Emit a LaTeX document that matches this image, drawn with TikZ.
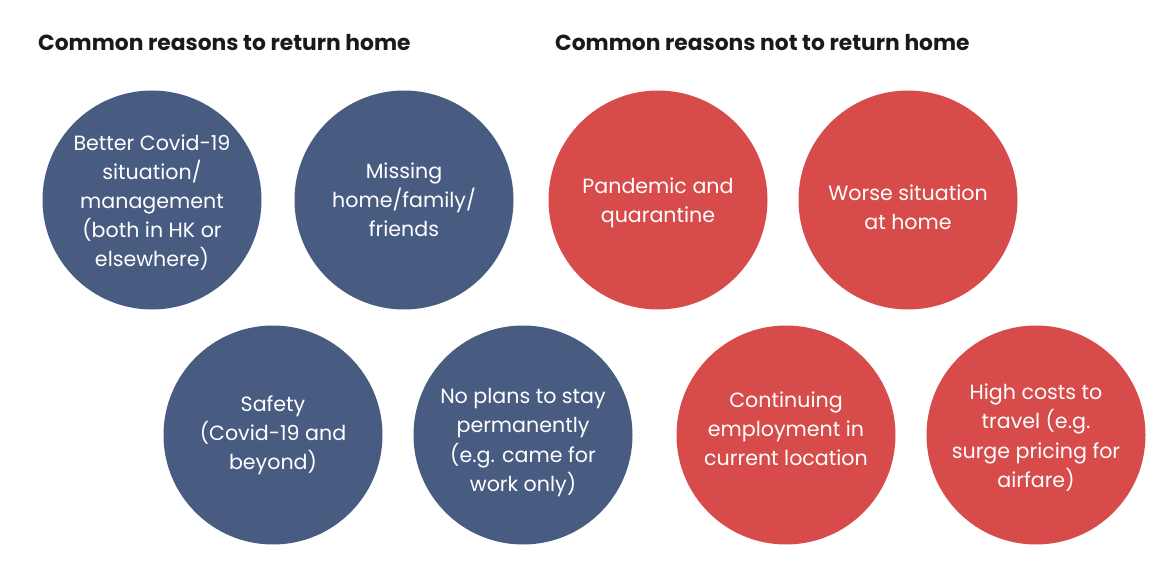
\documentclass[tikz,border=0pt]{standalone}
\usepackage{fontspec}
\setmainfont{Poppins}
\definecolor{cblue}{HTML}{485C82}
\definecolor{cred}{HTML}{D84B4B}
\definecolor{ctitle}{HTML}{1A1A1A}
\begin{document}
\begin{tikzpicture}[x=1pt,y=-1pt,
  bub/.style={circle,minimum size=219pt,inner sep=0pt},
  bubblue/.style={bub,fill=cblue},
  bubred/.style={bub,fill=cred},
  txt/.style={text=white,align=center,inner sep=0pt,font=\fontsize{20.6}{29.2}\selectfont},
  ttl/.style={anchor=base west,font=\fontsize{21.8}{26}\selectfont\bfseries,inner sep=0pt,text=ctitle}]
\useasboundingbox (0,0) rectangle (1170,588);
\node[ttl] (t1) at (38,51) {Common reasons to return home};
\node[ttl] (t2) at (555,51) {Common reasons not to return home};
\node[bubblue] (b1) at (152,200) {};
\node[bubblue] (b2) at (404,200) {};
\node[bubblue] (b3) at (273,435) {};
\node[bubblue] (b4) at (523,435) {};
\node[bubred] (r1) at (658,200) {};
\node[bubred] (r2) at (908,200) {};
\node[bubred] (r3) at (786,435) {};
\node[bubred] (r4) at (1036,435) {};
\node[txt] (b1t) at ([yshift=-2.5pt]b1) {Better Covid-19\\situation/\\management\\(both in HK or\\elsewhere)};
\node[txt] (b2t) at (b2) {Missing\\home/family/\\friends};
\node[txt] (b3t) at (b3) {Safety\\(Covid-19 and\\beyond)};
\node[txt] (b4t) at ([yshift=-7.5pt]b4) {No plans to stay\\permanently\\(e.g. came for\\work only)};
\node[txt] (r1t) at ([yshift=-3pt]r1) {Pandemic and\\quarantine};
\node[txt] (r2t) at ([yshift=-7pt]r2) {Worse situation\\at home};
\node[txt] (r3t) at ([yshift=6pt]r3) {Continuing\\employment in\\current location};
\node[txt] (r4t) at ([yshift=-2.5pt]r4) {High costs to\\travel (e.g.\\surge pricing for\\airfare)};
\end{tikzpicture}
\end{document}
